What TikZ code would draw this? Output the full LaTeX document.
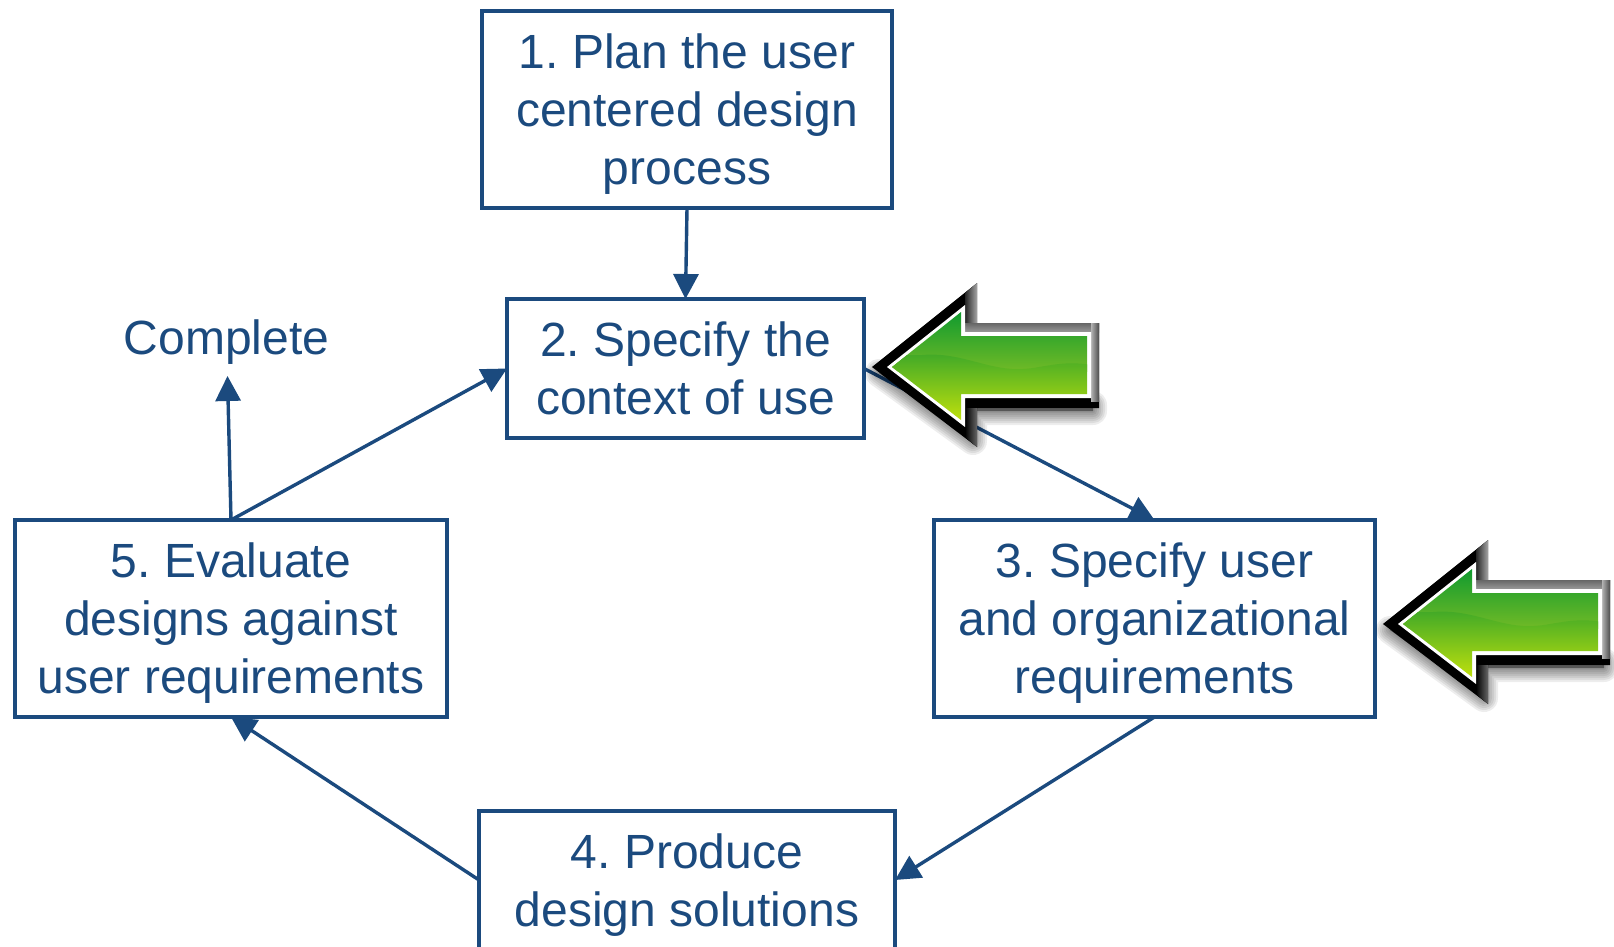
\documentclass[tikz,border=0pt]{standalone}
\usepackage{fontspec}
\setmainfont{Liberation Sans}
\usetikzlibrary{arrows.meta}
\definecolor{ink}{HTML}{1B4A7E}
\definecolor{gtop}{RGB}{15,154,47}
\definecolor{gmid}{RGB}{112,186,38}
\definecolor{glow}{RGB}{62,168,40}
\definecolor{gbot}{RGB}{196,226,12}
\tikzset{
  x=1pt,y=-1pt,
  stepbox/.style={draw=ink,line width=3.6pt,text=ink,align=center,inner sep=0pt,outer sep=0pt,text depth=0pt,
    font=\fontsize{48pt}{58pt}\selectfont\frenchspacing},
  link/.style={draw=ink,line width=3.4pt,-{Triangle[length=25pt,width=25pt]}},
}
\newcommand{\greenarrow}{%
  % soft shadow
  \foreach \w in {4,8,12,16,20,24,28}{
    \fill[black,opacity=0.07,line join=round,draw=black,line width=\w pt]
      (-8,6) -- (86,74) -- (86,44) -- (206,44) -- (206,38) -- (86,38) -- (86,30) -- cycle;
  }
  % black base
  \fill[black,line join=miter] (-15,0) -- (90,-84) -- (90,-44) -- (212,-44) -- (212,41) -- (90,41) -- (90,80) -- cycle;
  % grey bevels on the upper and right sides
  \shade[left color=black!85,right color=black!35] (78,-74) -- (90,-84) -- (90,-35) -- (78,-35) -- cycle;
  \shade[top color=black!60,bottom color=black!40] (78,-44) -- (212,-44) -- (212,-35) -- (78,-35) -- cycle;
  \shade[left color=black!30,right color=black!70] (204,-44) -- (212,-44) -- (212,34) -- (204,34) -- cycle;
  \shade[left color=black,right color=black!60] (78,41) -- (90,41) -- (90,80) -- (78,70) -- cycle;
  \fill[white] (0,0) -- (78,-62) -- (78,-35) -- (204,-35) -- (204,31) -- (78,31) -- (78,60) -- cycle;
  \begin{scope}
    \clip (5,0) -- (74,-55) -- (74,-31) -- (200,-31) -- (200,27) -- (74,27) -- (74,53) -- cycle;
    \shade[top color=gtop,bottom color=gmid] (0,-56) rectangle (204,4);
    \shade[top color=glow,bottom color=gbot]
       (0,-12) -- (0,56) -- (204,56) -- (204,-2)
       .. controls (170,-8) and (150,4) .. (125,2)
       .. controls (95,0) and (70,-15) .. (35,-12) -- cycle;
  \end{scope}
}
\begin{document}
\begin{tikzpicture}[x=1pt,y=-1pt]
\useasboundingbox (0,0) rectangle (1614,947);
\fill[white] (0,0) rectangle (1614,947);
\node[stepbox,minimum width=410pt,minimum height=197pt] (n1) at (687,109.5) {1. Plan the user\\centered design\\process};
\node[stepbox,minimum width=357pt,minimum height=139pt] (n2) at (685.5,368.5) {2. Specify the\\context of use};
\node[stepbox,minimum width=441pt,minimum height=197pt] (n3) at (1154.5,618.5) {3. Specify user\\and organizational\\requirements};
\node[stepbox,minimum width=416pt,minimum height=138pt] (n4) at (687,880) {4. Produce\\design solutions};
\node[stepbox,minimum width=432pt,minimum height=197pt] (n5) at (231,618.5) {5. Evaluate\\designs against\\user requirements};
\node[stepbox,draw=none] (n6) at (226.5,337) {Complete};
\coordinate (c6) at (227.5,376);
\draw[link] (n1.south) -- (n2.north);
\draw[link] (n2.east) -- (n3.north);
\draw[link] (n3.south) -- (n4.east);
\draw[link] (n4.west) -- (n5.south);
\draw[link] (n5.north) -- (n2.west);
\draw[link] (n5.north) -- (c6);
\begin{scope}[shift={(887,367)}]\greenarrow\end{scope}
\begin{scope}[shift={(1398,624)}]\greenarrow\end{scope}
\end{tikzpicture}
\end{document}
